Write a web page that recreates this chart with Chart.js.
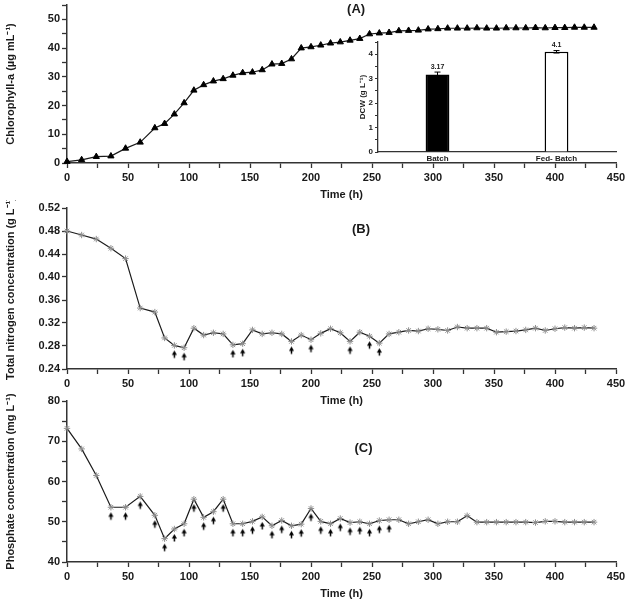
<!DOCTYPE html>
<html>
<head>
<meta charset="utf-8">
<script src="https://cdn.jsdelivr.net/npm/chart.js@4.4.0/dist/chart.umd.min.js"></script>
<style>
  html, body { margin: 0; padding: 0; background: #fff; }
  #wrap { position: relative; width: 625px; height: 601px; overflow: hidden; }
  canvas { position: absolute; }
</style>
</head>
<body>
<div id="wrap">
  <canvas id="chartA" width="625" height="210" style="left:0;top:0"></canvas>
  <canvas id="chartB" width="625" height="215" style="left:0;top:200px"></canvas>
  <canvas id="chartC" width="625" height="209" style="left:0;top:392px"></canvas>
  <canvas id="inset" width="280" height="140" style="left:345px;top:30px"></canvas>
</div>
<script>
// sampling times (h)
const times = [0, 12, 24, 36, 48, 60, 72, 80, 88, 96, 104, 112, 120, 128, 136, 144, 152, 160,
  168, 176, 184, 192, 200, 208, 216, 224, 232, 240, 248, 256, 264, 272, 280, 288, 296, 304,
  312, 320, 328, 336, 344, 352, 360, 368, 376, 384, 392, 400, 408, 416, 424, 432];

// (A) chlorophyll-a, ug/mL
const chlorophyll = [0.5, 1.1, 2.2, 2.4, 5.1, 7.2, 12.2, 13.7, 17.0, 20.9, 25.3, 27.2, 28.5, 29.3,
  30.5, 31.4, 31.6, 32.4, 34.4, 34.6, 36.2, 40.0, 40.4, 41.0, 41.7, 42.1, 42.7, 43.3, 44.9, 45.2,
  45.4, 46.0, 46.1, 46.2, 46.6, 46.7, 46.9, 46.9, 46.9, 47.0, 46.9, 46.9, 47.0, 47.0, 47.0, 47.1,
  47.0, 47.1, 47.1, 47.2, 47.2, 47.2];

// (B) total nitrogen, g/L
const nitrogen = [0.480, 0.473, 0.466, 0.450, 0.432, 0.346, 0.339, 0.294, 0.281, 0.277, 0.311,
  0.299, 0.303, 0.301, 0.282, 0.284, 0.308, 0.301, 0.303, 0.301, 0.288, 0.299, 0.291, 0.302,
  0.310, 0.303, 0.288, 0.304, 0.297, 0.285, 0.301, 0.304, 0.307, 0.306, 0.310, 0.309, 0.307,
  0.313, 0.311, 0.311, 0.311, 0.304, 0.305, 0.306, 0.308, 0.311, 0.307, 0.310, 0.312, 0.311,
  0.312, 0.311];

// (C) phosphate, mg/L
const phosphate = [73.2, 68.1, 61.5, 53.6, 53.6, 56.3, 51.6, 45.8, 48.2, 49.5, 55.6, 51.1, 52.5,
  55.6, 49.5, 49.5, 50.1, 51.2, 49.0, 50.3, 49.0, 49.4, 53.3, 50.1, 49.5, 50.8, 49.8, 50.0, 49.5,
  50.3, 50.5, 50.5, 49.5, 50.0, 50.5, 49.5, 50.0, 50.0, 51.5, 49.9, 49.9, 49.9, 49.9, 49.9, 49.9,
  49.8, 50.1, 50.1, 49.9, 49.9, 49.9, 49.9];

// feeding times (arrows)
const nitrogenFeeds = [88, 96, 136, 144, 184, 200, 232, 248, 256];
const phosphateFeeds = [36, 48, 60, 72, 80, 88, 96, 104, 112, 120, 128, 136, 144, 152, 160, 168,
  176, 184, 192, 200, 208, 216, 224, 232, 240, 248, 256, 264];

// inset: dry cell weight
const dcwLabels = ['Batch', 'Fed- Batch'];
const dcwValues = [3.17, 4.1];
const dcwErrors = [0.1, 0.05];

const FONT = '"Liberation Sans", Arial, sans-serif';
const INK = '#1a1a1a';

function pts(series) {
  return times.map((t, i) => ({ x: t, y: series[i] }));
}
function feedPts(feeds, series) {
  return feeds.map(t => ({ x: t, y: series[times.indexOf(t)] }));
}

function makeArrow() {
  const c = document.createElement('canvas');
  c.width = 7; c.height = 38;
  const g = c.getContext('2d');
  g.fillStyle = '#000'; g.strokeStyle = '#000'; g.lineWidth = 1.5;
  g.beginPath(); g.moveTo(3.5, 24); g.lineTo(1, 28.5); g.lineTo(6, 28.5); g.closePath(); g.fill();
  g.beginPath(); g.moveTo(3.5, 28); g.lineTo(3.5, 31.5); g.stroke();
  return c;
}
const arrow = makeArrow();

const panelLabel = {
  id: 'panelLabel',
  afterDraw(chart, args, o) {
    const { ctx, scales: { x, y } } = chart;
    ctx.save();
    ctx.font = 'bold 13px ' + FONT;
    ctx.fillStyle = INK;
    ctx.textAlign = 'center';
    ctx.textBaseline = 'middle';
    ctx.fillText(o.text, x.getPixelForValue(o.x), y.getPixelForValue(o.y));
    ctx.restore();
  }
};

function axisStyle() {
  return {
    grid: { display: true, drawOnChartArea: false, drawTicks: true, tickLength: 5, tickColor: '#333', tickWidth: 1.3 },
    border: { display: true, color: '#333', width: 1.5 }
  };
}

function panel(id, p) {
  const datasets = [{
    data: pts(p.series),
    borderColor: INK,
    borderWidth: 1.2,
    tension: 0,
    pointStyle: p.marker,
    pointRadius: p.radius,
    pointBackgroundColor: p.markerFill,
    pointBorderColor: p.markerColor,
    pointBorderWidth: 1,
    clip: false
  }];
  if (p.feeds) {
    datasets.push({
      data: feedPts(p.feeds, p.series),
      showLine: false,
      pointStyle: arrow,
      pointRadius: 4,
      clip: false
    });
  }
  return new Chart(document.getElementById(id), {
    type: 'line',
    data: { datasets },
    options: {
      responsive: false,
      animation: false,
      layout: { padding: { top: p.padTop, right: 9, left: 0, bottom: 0 } },
      plugins: {
        legend: { display: false },
        tooltip: { enabled: false },
        panelLabel: p.label
      },
      scales: {
        x: Object.assign(axisStyle(), {
          type: 'linear', min: 0, max: 450,
          ticks: {
            stepSize: 25, autoSkip: false, maxRotation: 0, padding: 3, color: INK,
            font: { family: FONT, size: 11, weight: 'bold' },
            callback: v => (v % 50 === 0 ? v : '')
          },
          title: {
            display: true, text: 'Time (h)', color: INK,
            font: { family: FONT, size: 11, weight: 'bold' },
            padding: { top: 0, bottom: p.xTitlePad }
          },
          afterFit: s => { s.height = p.xHeight; s.paddingLeft = 0; s.paddingRight = 0; }
        }),
        y: Object.assign(axisStyle(), {
          min: p.yMin, max: p.yMax,
          ticks: {
            stepSize: p.yStep, autoSkip: false, padding: 2, color: INK,
            font: { family: FONT, size: 11, weight: 'bold' },
            callback: p.yFmt
          },
          title: {
            display: true, text: p.yTitle, color: INK,
            font: { family: FONT, size: 11, weight: 'bold' },
            padding: { top: 4, bottom: 0 }
          },
          afterFit: s => { s.width = 67; s.paddingTop = 0; s.paddingBottom = 0; }
        })
      }
    },
    plugins: [panelLabel]
  });
}

panel('chartA', {
  series: chlorophyll, marker: 'triangle', radius: 3.6, markerFill: '#000', markerColor: '#000',
  padTop: 2, xHeight: 47, xTitlePad: 8,
  yMin: 0, yMax: 55, yStep: 5, yFmt: v => (v % 10 === 0 ? v : ''),
  yTitle: 'Chlorophyll-a (µg mL⁻¹)',
  label: { text: '(A)', x: 237, y: 53.3 }
});

panel('chartB', {
  series: nitrogen, marker: 'star', radius: 3.2, markerFill: '#999', markerColor: '#8f8f8f',
  feeds: nitrogenFeeds,
  padTop: 8, xHeight: 46, xTitlePad: 7,
  yMin: 0.24, yMax: 0.52, yStep: 0.04, yFmt: v => v.toFixed(2),
  yTitle: 'Total nitrogen concentration (g L⁻¹)',
  label: { text: '(B)', x: 241, y: 0.482 }
});

panel('chartC', {
  series: phosphate, marker: 'star', radius: 3.2, markerFill: '#999', markerColor: '#8f8f8f',
  feeds: phosphateFeeds,
  padTop: 9, xHeight: 39, xTitlePad: 0,
  yMin: 40, yMax: 80, yStep: 5, yFmt: v => (v % 10 === 0 ? v : ''),
  yTitle: 'Phosphate concentration (mg L⁻¹)',
  label: { text: '(C)', x: 243, y: 68.3 }
});

// error bars + value labels for the inset
const dcwDecor = {
  id: 'dcwDecor',
  afterDatasetsDraw(chart) {
    const { ctx, scales: { y } } = chart;
    const bars = chart.getDatasetMeta(0).data;
    ctx.save();
    ctx.strokeStyle = '#000';
    ctx.lineWidth = 1;
    ctx.font = 'bold 7px ' + FONT;
    ctx.fillStyle = INK;
    ctx.textAlign = 'center';
    ctx.textBaseline = 'bottom';
    bars.forEach((bar, i) => {
      const top = y.getPixelForValue(dcwValues[i] + dcwErrors[i]);
      const bot = y.getPixelForValue(dcwValues[i] - dcwErrors[i]);
      ctx.beginPath();
      ctx.moveTo(bar.x, top); ctx.lineTo(bar.x, bot);
      ctx.moveTo(bar.x - 3, top); ctx.lineTo(bar.x + 3, top);
      ctx.moveTo(bar.x - 3, bot); ctx.lineTo(bar.x + 3, bot);
      ctx.stroke();
      ctx.fillText(String(dcwValues[i]), bar.x, top - 2);
    });
    ctx.restore();
  }
};

new Chart(document.getElementById('inset'), {
  type: 'bar',
  data: {
    labels: dcwLabels,
    datasets: [{
      data: dcwValues,
      backgroundColor: ['#000', '#fff'],
      borderColor: '#000',
      borderWidth: 1.5,
      barPercentage: 0.2,
      categoryPercentage: 1
    }]
  },
  options: {
    responsive: false,
    animation: false,
    layout: { padding: { top: 12, right: 9, left: 0, bottom: 0 } },
    plugins: { legend: { display: false }, tooltip: { enabled: false } },
    scales: {
      x: {
        grid: { display: false, drawTicks: false },
        border: { display: true, color: '#333', width: 1.3 },
        ticks: { padding: 2, color: INK, font: { family: FONT, size: 8, weight: 'bold' } },
        afterFit: s => { s.height = 18; s.paddingLeft = 0; s.paddingRight = 0; }
      },
      y: {
        min: 0, max: 4.5,
        grid: { display: true, drawOnChartArea: false, tickLength: 3, tickColor: '#333', tickWidth: 1 },
        border: { display: true, color: '#333', width: 1.3 },
        ticks: {
          stepSize: 0.5, autoSkip: false, padding: 2, color: INK,
          font: { family: FONT, size: 8, weight: 'bold' },
          callback: v => (Number.isInteger(v) ? v : '')
        },
        title: {
          display: true, text: 'DCW (g L⁻¹)', color: INK,
          font: { family: FONT, size: 8, weight: 'bold' },
          padding: { top: 13, bottom: 0 }
        },
        afterFit: s => { s.width = 33; s.paddingTop = 0; s.paddingBottom = 0; }
      }
    }
  },
  plugins: [dcwDecor]
});
</script>
</body>
</html>
